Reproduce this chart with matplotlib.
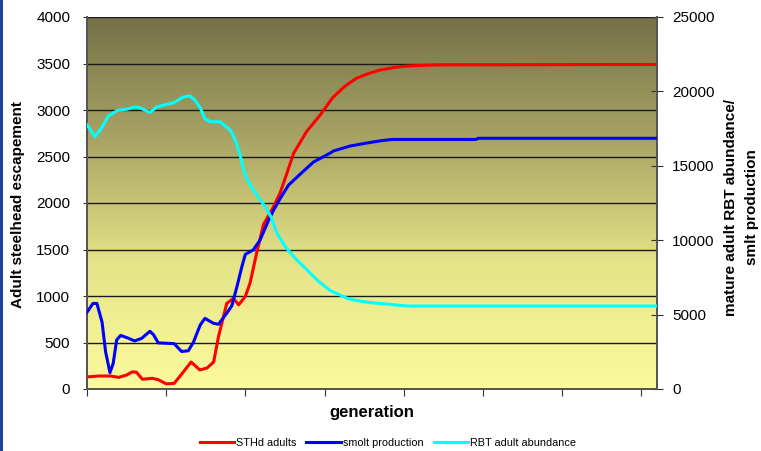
import numpy as np
import matplotlib
matplotlib.use('Agg')
import matplotlib.pyplot as plt
from matplotlib.colors import LinearSegmentedColormap
from matplotlib.patches import Rectangle
from matplotlib.lines import Line2D

plt.rcParams['font.family'] = ['Liberation Sans', 'DejaVu Sans']

# ---- data (generation, value) ----
sthd_gen = [0, 3, 6, 8, 10, 11.5, 12.5, 14, 16.5, 18, 20, 22, 24, 26.3, 28.5, 30.3, 32, 33.2,
            35.3, 37, 38.3, 40, 41.2, 42.9, 44.6, 47, 48.8, 50.5, 52.2, 55.5, 59, 62, 65, 68,
            71, 74, 78, 81, 88, 144]
sthd_adults = [130, 140, 140, 125, 150, 185, 180, 105, 115, 100, 55, 60, 165, 290, 205, 225, 290, 560,
               920, 975, 905, 995, 1140, 1470, 1770, 1950, 2110, 2320, 2534, 2770, 2950, 3130, 3250, 3340,
               3390, 3430, 3460, 3473, 3485, 3490]

smolt_gen = [0, 1.5, 2.5, 3.8, 4.7, 5.8, 6.6, 7.5, 8.5, 10.4, 12, 13.8, 15.9, 16.8, 18, 22, 23.9,
             25.6, 26.9, 28.6, 29.8, 31.9, 33.2, 35.3, 36.6, 38, 39.1, 40, 42, 43.7, 45.8, 47.1,
             48.8, 50.9, 53.9, 57.2, 61.4, 62.3, 66.5, 70, 74.1, 77, 98.3, 98.8, 144]
smolt_production = [5150, 5750, 5750, 4500, 2500, 1100, 1700, 3300, 3600, 3420, 3230, 3400, 3880, 3650, 3100, 3050, 2520,
                    2570, 3150, 4300, 4750, 4420, 4350, 5090, 5600, 7000, 8200, 9050, 9350, 10000, 11300, 12000,
                    12800, 13700, 14450, 15250, 15850, 16000, 16330, 16500, 16680, 16770, 16770, 16850, 16850]

rbt_gen = [0, 2, 3.7, 5.4, 7.7, 10, 12.1, 13.4, 15.9, 17.6, 19.7, 21.8, 24.3, 26, 27.3, 28.6, 29.8,
           31.1, 33.6, 36.2, 37.5, 38.7, 39.5, 40.4, 42, 43.3, 45.4, 46.6, 48, 50.1, 53, 55.6, 58.1,
           61.4, 65.7, 68, 72.4, 75.8, 79, 80.8, 144]
rbt_abundance = [17750, 16950, 17550, 18350, 18720, 18800, 18960, 18900, 18580, 18950, 19100, 19230, 19620, 19700, 19400, 18900, 18150,
                 17960, 17960, 17400, 16700, 15700, 14800, 14100, 13400, 12900, 12100, 11500, 10460, 9560, 8670, 8000, 7330,
                 6620, 6100, 5950, 5780, 5710, 5620, 5580, 5580]

left_ticks = list(range(0, 4001, 500))
right_ticks = list(range(0, 25001, 5000))
x_ticks = list(range(0, 141, 20))
legend_labels = ['STHd adults', 'smolt production', 'RBT adult abundance']

# ---- figure ----
W, H = 761, 451
fig = plt.figure(figsize=(W / 100, H / 100), dpi=100)
fig.patches.append(Rectangle((0, 0), 3 / W, 1, transform=fig.transFigure,
                             facecolor='#1f3f9f', edgecolor='none'))

ax = fig.add_axes([87 / W, 62 / H, 570 / W, 372 / H])
grad = np.linspace(0, 1, 256).reshape(-1, 1)
cmap = LinearSegmentedColormap.from_list('bg', ['#fbfb9e', '#e6e488', '#a9a566', '#747247'])
ax.imshow(grad, extent=[0, 1, 0, 1], transform=ax.transAxes, cmap=cmap,
          origin='lower', aspect='auto', zorder=0)
ax.set_xlim(0, 144)
ax.set_ylim(0, 4000)
ax.set_yticks(left_ticks)
ax.set_xticks(x_ticks)
ax.set_xticklabels([])
ax.grid(axis='y', color='#1a1a1a', lw=1.0)
ax.grid(axis='x', visible=False)
ax.tick_params(axis='y', direction='out', length=3, pad=9, labelsize=11, color='#333333')
ax.tick_params(axis='x', direction='out', length=5, color='#333333')
ax.plot(sthd_gen, sthd_adults, color='#ff0000', lw=2.2, zorder=3)

ax2 = ax.twinx()
ax2.set_ylim(0, 25000)
ax2.set_yticks(right_ticks)
ax2.tick_params(axis='y', direction='inout', length=8, pad=7, labelsize=11, color='#333333')
ax2.plot(smolt_gen, smolt_production, color='#0000ff', lw=2.2, zorder=3)
ax2.plot(rbt_gen, rbt_abundance, color='#00ffff', lw=2.2, zorder=3)

for a in (ax, ax2):
    a.spines['top'].set_visible(False)
    for s in ('left', 'right', 'bottom'):
        a.spines[s].set_color('#555555')
        a.spines[s].set_linewidth(1.3)

fig.text(18 / W, 1 - 205 / H, 'Adult steelhead escapement', rotation=90,
         ha='center', va='center', fontsize=11, fontweight='bold')
fig.text(741.5 / W, 1 - 207 / H, 'mature adult RBT abundance/\nsmlt production', rotation=90,
         ha='center', va='center', multialignment='center', fontsize=11,
         fontweight='bold', linespacing=1.55)
fig.text(372 / W, 1 - 413 / H, 'generation', ha='center', va='center',
         fontsize=12, fontweight='bold')

handles = [Line2D([], [], color=c, lw=2.2) for c in ('#ff0000', '#0000ff', '#00ffff')]
fig.legend(handles, legend_labels, loc='center', bbox_to_anchor=(388 / W, 8 / H),
           ncol=3, frameon=False, fontsize=7.8, handlelength=3.2,
           handletextpad=0.2, columnspacing=0.9, borderpad=0)

fig.savefig('out.png', dpi=100)
